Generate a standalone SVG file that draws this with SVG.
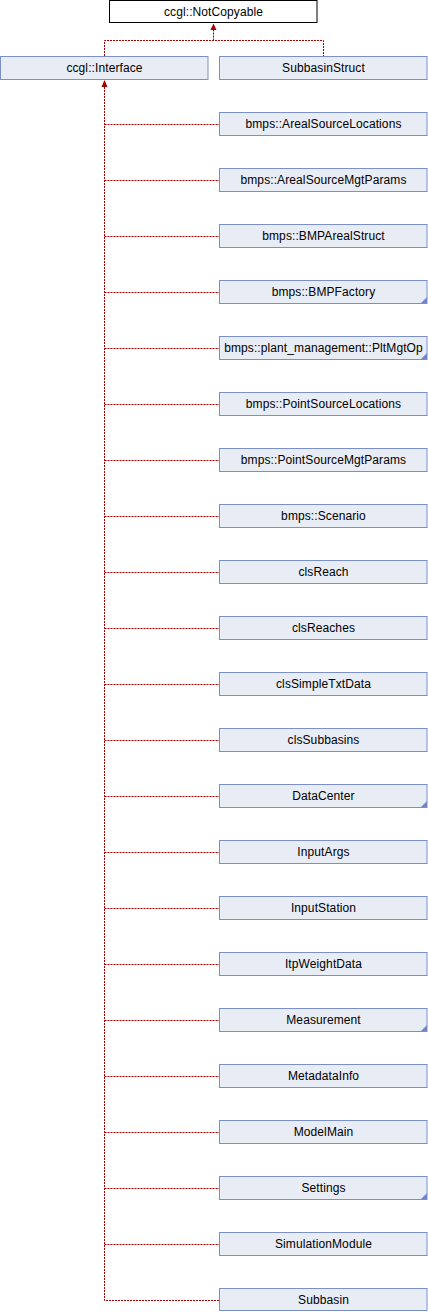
<svg xmlns="http://www.w3.org/2000/svg" width="428" height="1312" viewBox="0 0 428 1312">
<style>
.n rect{fill:#e8ecf5;stroke:#7b90c8;stroke-width:1}
.n.root rect{fill:#ffffff;stroke:#000000}
.n text{font-family:"Liberation Sans",Arial,sans-serif;font-size:12px;fill:#000;text-anchor:middle;letter-spacing:0.1px}
.n path{fill:#6f86c6}
#edges path{fill:none;stroke:#a00000;stroke-width:1;stroke-dasharray:2,1}
#edges polygon{fill:#a00000}
</style>
<rect width="428" height="1312" fill="#ffffff"/>
<g id="edges">
<path d="M104.5,87 V1300.5 H219"/>
<path d="M104.5,56 V40.5 H323.5 V56"/>
<path d="M213.5,40.5 V30"/>
<polygon points="213.5,23.5 210.5,30 216.5,30"/>
<polygon points="104.5,80 101.5,87 107.5,87"/>
<path d="M104.5,124.5 H219"/>
<path d="M104.5,180.5 H219"/>
<path d="M104.5,236.5 H219"/>
<path d="M104.5,292.5 H219"/>
<path d="M104.5,348.5 H219"/>
<path d="M104.5,404.5 H219"/>
<path d="M104.5,460.5 H219"/>
<path d="M104.5,516.5 H219"/>
<path d="M104.5,572.5 H219"/>
<path d="M104.5,628.5 H219"/>
<path d="M104.5,684.5 H219"/>
<path d="M104.5,740.5 H219"/>
<path d="M104.5,796.5 H219"/>
<path d="M104.5,852.5 H219"/>
<path d="M104.5,908.5 H219"/>
<path d="M104.5,964.5 H219"/>
<path d="M104.5,1020.5 H219"/>
<path d="M104.5,1076.5 H219"/>
<path d="M104.5,1132.5 H219"/>
<path d="M104.5,1188.5 H219"/>
<path d="M104.5,1244.5 H219"/>
</g>
<g id="NotCopyable" class="n root"><rect x="109.5" y="0.5" width="207.5" height="22"/><text x="213.5" y="16">ccgl::NotCopyable</text></g>
<g id="Interface" class="n"><rect x="0.5" y="56.5" width="207.5" height="23"/><text x="104.5" y="72">ccgl::Interface</text></g>
<g id="SubbasinStruct" class="n"><rect x="219.5" y="56.5" width="207.5" height="23"/><text x="323.5" y="72">SubbasinStruct</text></g>
<g id="ArealSourceLocations" class="n"><rect x="219.5" y="112.5" width="207.5" height="23"/><text x="323.5" y="128">bmps::ArealSourceLocations</text></g>
<g id="ArealSourceMgtParams" class="n"><rect x="219.5" y="168.5" width="207.5" height="23"/><text x="323.5" y="184">bmps::ArealSourceMgtParams</text></g>
<g id="BMPArealStruct" class="n"><rect x="219.5" y="224.5" width="207.5" height="23"/><text x="323.5" y="240">bmps::BMPArealStruct</text></g>
<g id="BMPFactory" class="n"><rect x="219.5" y="280.5" width="207.5" height="23"/><path d="M427,297 V303 H421 Z"/><text x="323.5" y="296">bmps::BMPFactory</text></g>
<g id="PltMgtOp" class="n"><rect x="219.5" y="336.5" width="207.5" height="23"/><path d="M427,353 V359 H421 Z"/><text x="323.5" y="352">bmps::plant_management::PltMgtOp</text></g>
<g id="PointSourceLocations" class="n"><rect x="219.5" y="392.5" width="207.5" height="23"/><text x="323.5" y="408">bmps::PointSourceLocations</text></g>
<g id="PointSourceMgtParams" class="n"><rect x="219.5" y="448.5" width="207.5" height="23"/><text x="323.5" y="464">bmps::PointSourceMgtParams</text></g>
<g id="Scenario" class="n"><rect x="219.5" y="504.5" width="207.5" height="23"/><text x="323.5" y="520">bmps::Scenario</text></g>
<g id="clsReach" class="n"><rect x="219.5" y="560.5" width="207.5" height="23"/><text x="323.5" y="576">clsReach</text></g>
<g id="clsReaches" class="n"><rect x="219.5" y="616.5" width="207.5" height="23"/><text x="323.5" y="632">clsReaches</text></g>
<g id="clsSimpleTxtData" class="n"><rect x="219.5" y="672.5" width="207.5" height="23"/><text x="323.5" y="688">clsSimpleTxtData</text></g>
<g id="clsSubbasins" class="n"><rect x="219.5" y="728.5" width="207.5" height="23"/><text x="323.5" y="744">clsSubbasins</text></g>
<g id="DataCenter" class="n"><rect x="219.5" y="784.5" width="207.5" height="23"/><path d="M427,801 V807 H421 Z"/><text x="323.5" y="800">DataCenter</text></g>
<g id="InputArgs" class="n"><rect x="219.5" y="840.5" width="207.5" height="23"/><text x="323.5" y="856">InputArgs</text></g>
<g id="InputStation" class="n"><rect x="219.5" y="896.5" width="207.5" height="23"/><text x="323.5" y="912">InputStation</text></g>
<g id="ItpWeightData" class="n"><rect x="219.5" y="952.5" width="207.5" height="23"/><text x="323.5" y="968">ItpWeightData</text></g>
<g id="Measurement" class="n"><rect x="219.5" y="1008.5" width="207.5" height="23"/><path d="M427,1025 V1031 H421 Z"/><text x="323.5" y="1024">Measurement</text></g>
<g id="MetadataInfo" class="n"><rect x="219.5" y="1064.5" width="207.5" height="23"/><text x="323.5" y="1080">MetadataInfo</text></g>
<g id="ModelMain" class="n"><rect x="219.5" y="1120.5" width="207.5" height="23"/><text x="323.5" y="1136">ModelMain</text></g>
<g id="Settings" class="n"><rect x="219.5" y="1176.5" width="207.5" height="23"/><path d="M427,1193 V1199 H421 Z"/><text x="323.5" y="1192">Settings</text></g>
<g id="SimulationModule" class="n"><rect x="219.5" y="1232.5" width="207.5" height="23"/><text x="323.5" y="1248">SimulationModule</text></g>
<g id="Subbasin" class="n"><rect x="219.5" y="1288.5" width="207.5" height="22"/><text x="323.5" y="1304">Subbasin</text></g>
</svg>
